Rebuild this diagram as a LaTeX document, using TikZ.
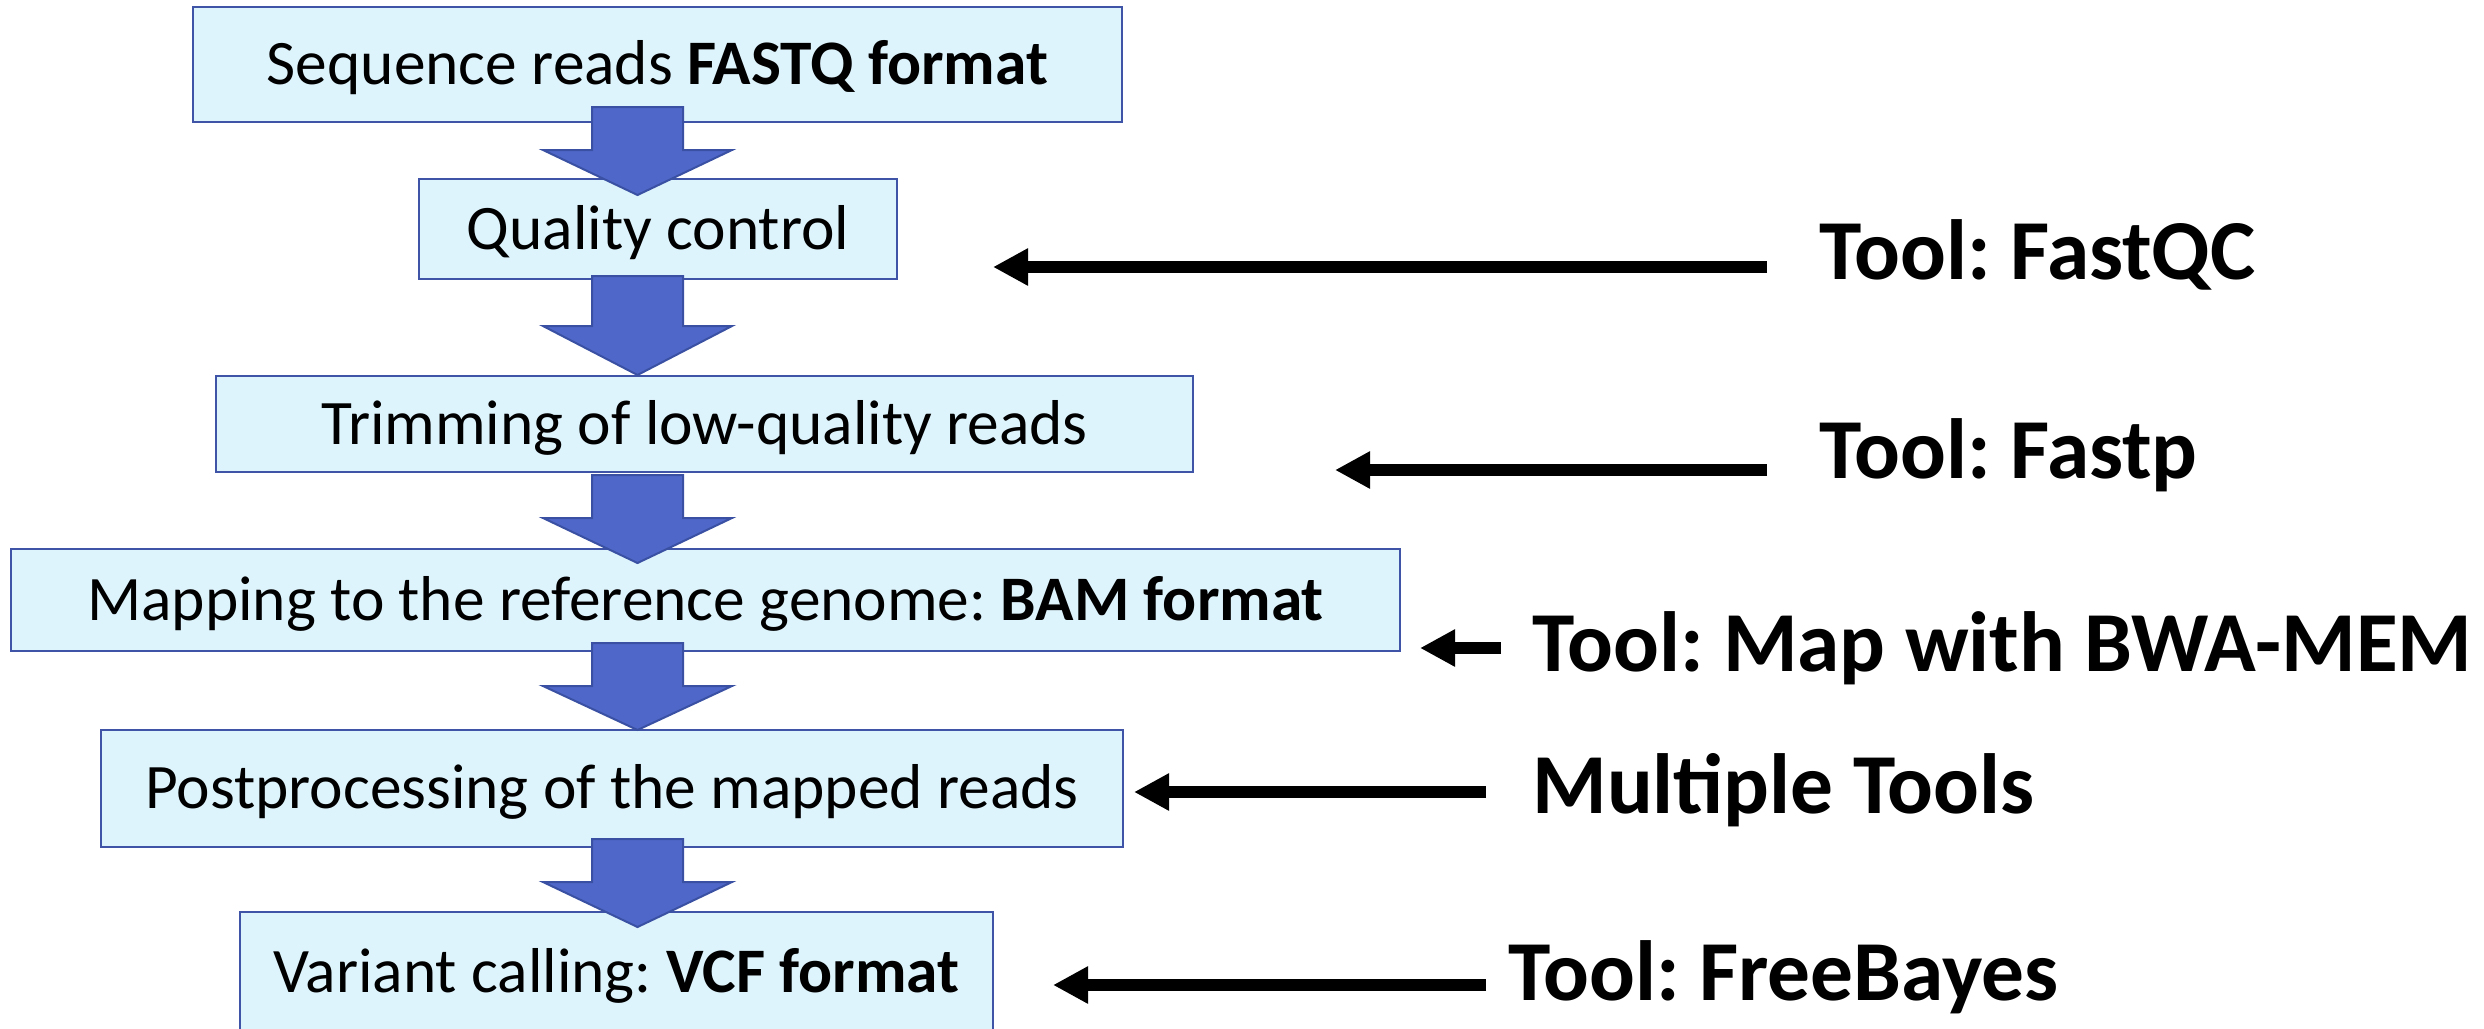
\documentclass[tikz,border=0pt]{standalone}
\usepackage{fontspec}
\setmainfont{Carlito}
\usetikzlibrary{arrows.meta}
\definecolor{boxfill}{HTML}{DEF4FC}
\definecolor{boxline}{HTML}{3F54A6}
\definecolor{arrfill}{HTML}{4F67C8}
\definecolor{arrline}{HTML}{3A51A3}
\newcommand\blockarrow[3]{\draw[blockarr] (592,#1) -- (683,#1) -- (683,#2) -- (732,#2) -- (637.5,#3) -- (543,#2) -- (592,#2) -- cycle;}
\frenchspacing
\begin{document}
\begin{tikzpicture}[x=0.5pt,y=-0.5pt,
  stepbox/.style={draw=boxline, fill=boxfill, line width=1.3pt, inner sep=0pt,
    text height=20pt, text depth=0pt, font=\fontsize{31.7}{38}\selectfont},
  blockarr/.style={draw=arrline, fill=arrfill, line width=1pt, line join=miter},
  toollabel/.style={anchor=base west, inner sep=0pt, font=\bfseries\fontsize{42.7}{50}\selectfont},
  toolarr/.style={line width=6pt, -{Triangle[length=17.5pt,width=17.5pt]}}]
\useasboundingbox (0,0) rectangle (2484,1028);
\clip (0,0) rectangle (2484,1028);
\fill[white] (0,0) rectangle (2484,1028);

% boxes
\node[stepbox, minimum width=464.5pt, minimum height=57.5pt] (b1) at (657.5,64.5) {Sequence reads \textbf{FASTQ format}};
\node[stepbox, minimum width=239pt, minimum height=50pt] (b2) at (658,229) {Quality control};
\node[stepbox, minimum width=488.5pt, minimum height=48pt] (b3) at (704.5,424) {Trimming of low-quality reads};
\node[stepbox, minimum width=694.5pt, minimum height=51pt] (b4) at (705.5,600) {Mapping to the reference genome: \textbf{BAM format}};
\node[stepbox, minimum width=511pt, minimum height=58.5pt] (b5) at (612,788.5) {Postprocessing of the mapped reads};
\node[stepbox, minimum width=376.5pt, minimum height=60pt] (b6) at (616.5,972) {Variant calling: \textbf{VCF format}};

% block arrows
\blockarrow{107}{150}{195}
\blockarrow{276}{326}{375}
\blockarrow{475}{518}{563}
\blockarrow{643}{686}{730}
\blockarrow{839}{882}{927}

% tool labels
\node[toollabel] (t1) at (1819,279) {Tool: FastQC};
\node[toollabel] (t2) at (1819,478) {Tool: Fastp};
\node[toollabel] (t3) at (1532,671) {Tool: Map with BWA-MEM};
\node[toollabel] (t4) at (1532,813) {Multiple Tools};
\node[toollabel] (t5) at (1508,1000) {Tool: FreeBayes};

% arrow end points
\coordinate (s1) at (1767,267); \coordinate (e1) at (993,267);
\coordinate (s2) at (1767,470); \coordinate (e2) at (1335,470);
\coordinate (s3) at (1501,648); \coordinate (e3) at (1420,648);
\coordinate (s4) at (1486,792); \coordinate (e4) at (1134,792);
\coordinate (s5) at (1486,985); \coordinate (e5) at (1053,985);

\draw[toolarr] (s1) -- (e1);
\draw[toolarr] (s2) -- (e2);
\draw[toolarr] (s3) -- (e3);
\draw[toolarr] (s4) -- (e4);
\draw[toolarr] (s5) -- (e5);
\end{tikzpicture}
\end{document}
